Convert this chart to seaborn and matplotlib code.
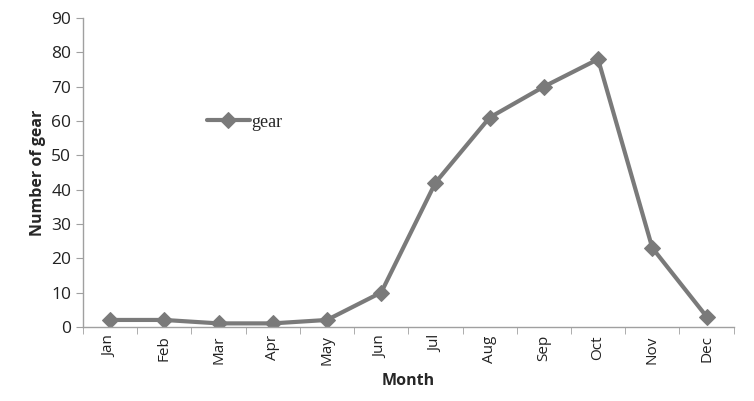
import numpy as np
import pandas as pd
import seaborn as sns
import matplotlib.pyplot as plt
from matplotlib.ticker import FixedLocator

months = ["Jan", "Feb", "Mar", "Apr", "May", "Jun", "Jul", "Aug", "Sep", "Oct", "Nov", "Dec"]
gear = [2, 2, 1, 1, 2, 10, 42, 61, 70, 78, 23, 3]

df = pd.DataFrame({"Month": months, "gear": gear})

sns.set_style("white")
plt.rcParams['font.family'] = ['Open Sans', 'DejaVu Sans']

fig = plt.figure(figsize=(7.54, 4.01), dpi=100)
ax = fig.add_axes([0.110, 0.185, 0.863, 0.77])

line_color = "#7a7a7a"
sns.lineplot(data=df, x="Month", y="gear", ax=ax, color=line_color, linewidth=3,
             marker="D", markersize=8.5, markeredgecolor=line_color, label="gear", sort=False)

ax.set_xlim(-0.5, len(months) - 0.5)
ax.set_ylim(0, 90)
ax.set_yticks(np.arange(0, 91, 10))
ax.set_xticks(range(len(months)))
ax.set_xticklabels(months, rotation=90, fontsize=11, color="#222222")
ax.xaxis.set_minor_locator(FixedLocator(np.arange(-0.5, len(months), 1)))
ax.tick_params(axis="x", which="major", length=0, pad=6)
ax.tick_params(axis="x", which="minor", length=5, color="#a0a0a0", direction="out")
ax.tick_params(axis="y", length=5, color="#a0a0a0", direction="out", labelsize=12.5, labelcolor="#222222")
ax.tick_params(axis="both", bottom=True, left=True, which="both")

for side in ["top", "right"]:
    ax.spines[side].set_visible(False)
for side in ["left", "bottom"]:
    ax.spines[side].set_color("#a0a0a0")
    ax.spines[side].set_linewidth(1)

ax.set_xlabel("Month", fontsize=11.5, fontweight="bold", labelpad=6)
ax.set_ylabel("Number of gear", fontsize=11.5, fontweight="bold", labelpad=4)

leg = ax.legend(loc="center left", bbox_to_anchor=(0.19, 0.663), frameon=False,
                prop={"family": "Liberation Serif", "size": 13}, handlelength=2.4,
                handletextpad=0.1, borderpad=0, borderaxespad=0)

fig.savefig("out.png", dpi=100)
